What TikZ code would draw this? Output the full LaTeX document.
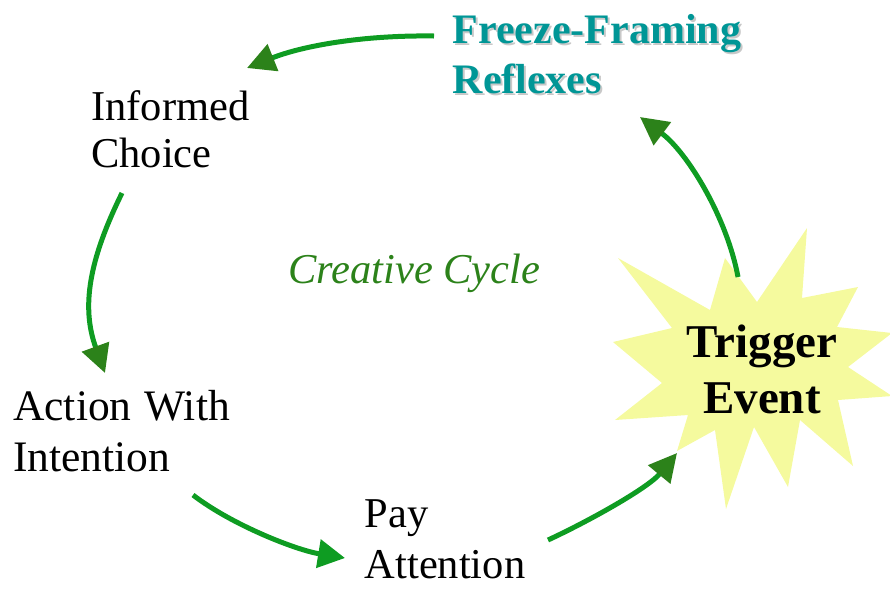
\documentclass[tikz,border=0pt]{standalone}
\usepackage{fontspec}
\setmainfont{Liberation Serif}
\usetikzlibrary{arrows.meta}

\definecolor{cyclegreen}{RGB}{14,156,34}
\definecolor{headgreen}{RGB}{44,130,26}
\definecolor{titleteal}{RGB}{0,150,150}
\definecolor{shadowgray}{RGB}{200,200,200}
\definecolor{burstyellow}{RGB}{245,250,158}

% text with a soft grey shadow
\newcommand{\shadowed}[1]{\rlap{\kern2pt\raisebox{-2pt}{\textcolor{shadowgray}{#1}}}#1}

\tikzset{
  cyc/.style={draw=cyclegreen, line width=5pt, -{Triangle[length=28pt,width=28pt,color=headgreen]}},
  cycbright/.style={cyc, -{Triangle[length=27pt,width=28pt,color=cyclegreen]}},
  lbl/.style={anchor=north west, inner sep=0pt, align=left, font=\fontsize{42.5}{47}\selectfont},
  titlelbl/.style={lbl, font=\bfseries\fontsize{42}{50}\selectfont},
}

\begin{document}
\begin{tikzpicture}[x=1pt,y=1pt,yscale=-1,xscale=1]
\useasboundingbox (0,0) rectangle (890,590);

%Shape: Star [id:burst]
\fill [burstyellow] (807,228) -- (802,298) -- (858,287) -- (837,327) -- (892,333) -- (848,367) -- (892,396) -- (838,400) -- (853,466) -- (800,420) -- (788,487) -- (754,427) -- (726,509) -- (715,430) -- (677,451) -- (688,415) -- (615,420) -- (662,383) -- (613,342) -- (672,328) -- (618,258) -- (710,310) -- (725,258) -- (757,302) -- cycle ;

% Text Node
\draw (452.5,14) node [titlelbl, text=titleteal] (freeze) {\shadowed{Freeze-Framing}\\\shadowed{Reflexes}};
% Text Node
\draw (91,90) node [lbl] (choice) {Informed\\Choice};
% Text Node
\draw (13,390.5) node [lbl, font=\fontsize{43.5}{47}\selectfont] (action) {Action\hspace{0.3em}With\\[4pt]Intention};
% Text Node
\draw (364.5,499) node [lbl] (pay) {Pay\\[4pt]Attention};
% Text Node
\draw (288,283) node [anchor=base west][inner sep=0pt][text=headgreen, font=\fontsize{42.5}{47}\selectfont\itshape] (cycle) {Creative Cycle};
% Text Node
\draw (762,324.5) node [anchor=north][inner sep=0pt][align=center, font=\bfseries\fontsize{47}{56}\selectfont] (trigger) {Trigger\\Event};

% arrow ends
\coordinate (ff-out) at (434,36);
\coordinate (ic-in) at (247,68);
\coordinate (ic-out) at (122,193);
\coordinate (aw-in) at (105,373);
\coordinate (aw-out) at (193,495);
\coordinate (pa-in) at (345,558);
\coordinate (pa-out) at (548,540);
\coordinate (te-in) at (677,453);
\coordinate (te-out) at (738,277);
\coordinate (ff-in) at (640,117);

%Curve Lines
\draw [cyc] (ff-out) .. controls (362,35) and (302,46) .. (ic-in) ;
%Curve Lines
\draw [cyc] (ic-out) .. controls (89,260) and (81,307) .. (aw-in) ;
%Curve Lines
\draw [cycbright] (aw-out) .. controls (232,525) and (296,550) .. (pa-in) ;
%Curve Lines
\draw [cyc] (pa-out) .. controls (589,521) and (648,488) .. (te-in) ;
%Curve Lines
\draw [cyc] (te-out) .. controls (727,218) and (688,153) .. (ff-in) ;

\end{tikzpicture}
\end{document}
